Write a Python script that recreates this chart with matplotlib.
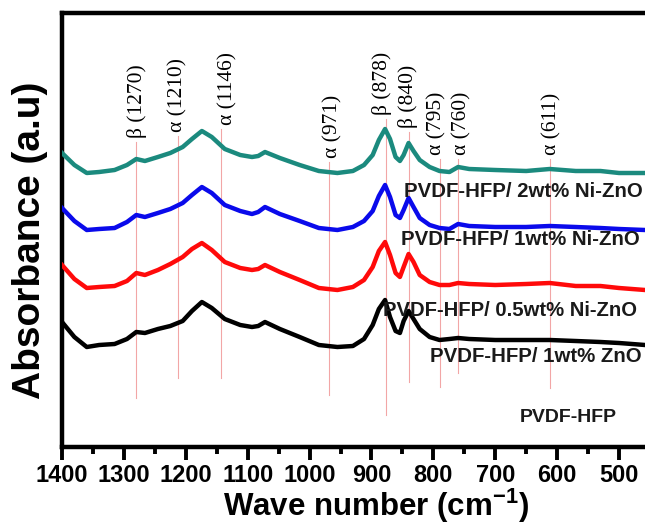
import matplotlib
matplotlib.use("Agg")
import matplotlib.pyplot as plt
from matplotlib.ticker import MultipleLocator

plt.rcParams['font.family'] = ['Liberation Sans', 'DejaVu Sans']
plt.rcParams['mathtext.fontset'] = 'custom'
plt.rcParams['mathtext.rm'] = 'Liberation Sans:bold'
plt.rcParams['mathtext.bf'] = 'Liberation Sans:bold'

# ---- data ----
wavenumber = [1400, 1380, 1360, 1340, 1315, 1295, 1280, 1266, 1245, 1225, 1205, 1190,
              1174, 1158, 1137, 1112, 1093, 1083, 1072, 1048, 1016, 985, 955, 930,
              912, 898, 888, 878, 870, 861, 854, 848, 840, 832, 822, 806, 790, 774,
              760, 742, 700, 650, 612, 570, 530, 500, 458]

abs_2wt_nizno = [294, 282, 274, 275, 277, 282, 288, 286, 290, 294, 300, 308,
                 316, 310, 298, 292, 290, 291, 295, 289, 282, 276, 274, 276,
                 282, 292, 307, 318, 308, 290, 286, 292, 304, 296, 287, 280, 276, 275,
                 280, 278, 277, 276, 278, 276, 276, 274, 274]
abs_1wt_nizno = [239, 226, 217, 218, 219, 225, 232, 230, 234, 238, 244, 252,
                 260, 254, 242, 236, 233, 235, 240, 233, 226, 219, 217, 220,
                 226, 236, 251, 262, 250, 232, 229, 237, 249, 240, 229, 222, 219, 218,
                 223, 221, 220, 220, 221, 220, 219, 218, 217]
abs_05wt_nizno = [182, 168, 159, 160, 161, 166, 174, 172, 177, 183, 190, 198,
                  204, 197, 185, 179, 177, 178, 182, 175, 167, 159, 157, 160,
                  167, 180, 196, 205, 192, 174, 170, 180, 193, 185, 172, 165, 162, 162,
                  164, 163, 162, 163, 164, 161, 161, 159, 157]
abs_1wt_zno = [125, 110, 100, 102, 103, 108, 115, 114, 118, 121, 126, 136,
               145, 139, 128, 122, 120, 121, 125, 118, 110, 102, 100, 101,
               108, 122, 138, 147, 130, 116, 114, 126, 136, 128, 118, 110, 107, 108,
               109, 108, 107, 107, 107, 106, 105, 104, 102]

series_labels = ["PVDF-HFP/ 2wt% Ni-ZnO", "PVDF-HFP/ 1wt% Ni-ZnO",
                 "PVDF-HFP/ 0.5wt% Ni-ZnO", "PVDF-HFP/ 1wt% ZnO", "PVDF-HFP"]

band_labels = ["β (1270)", "α (1210)", "α (1146)", "α (971)", "β (878)",
               "β (840)", "α (795)", "α (760)", "α (611)"]
band_line_pos = [1280, 1212, 1143, 968, 876, 840, 789, 760, 612]

# ---- layout / style ----
W, H = 645, 525
fig = plt.figure(figsize=(W / 100, H / 100), dpi=100)
ax = fig.add_axes([62 / W, (H - 447) / H, 1 - 62 / W, (447 - 13) / H])
ax.set_xlim(1400, 458)
ax.set_ylim(0, 434)

def py(y):  # pixel y -> data
    return 447 - y

colors = ['#1b8a7e', '#0a0aeb', '#ff0a0a', '#000000']
for vals, c in zip([abs_2wt_nizno, abs_1wt_nizno, abs_05wt_nizno, abs_1wt_zno], colors):
    ax.plot(wavenumber, vals, color=c, lw=3.2, solid_joinstyle='round', zorder=3)

# band reference lines and labels
label_x = [1279, 1213, 1132, 962, 883, 841, 794, 754, 608]
label_bottom = [138, 132, 125, 158, 115, 128, 155, 155, 155]
line_bottom = [398, 378, 378, 395, 415, 382, 387, 373, 388]
for pos, lx, lb, bot, txt in zip(band_line_pos, label_x, label_bottom, line_bottom, band_labels):
    ax.plot([pos, pos], [py(bot), py(lb + 4)], color='#f2a6a6', lw=0.8, zorder=1)
    ax.text(lx, py(lb), txt, rotation=90, ha='center', va='bottom',
            family='Liberation Serif', fontsize=15.5, zorder=4)

# series labels
lab_pos = [(404, 192), (401, 240), (383, 310), (430, 357), (520, 417)]
lab_size = [14.7, 14.7, 14.6, 14.7, 14]
for (lx, ly), s, fs in zip(lab_pos, series_labels, lab_size):
    ax.text(lx / W, 1 - ly / H, s, transform=fig.transFigure, ha='left', va='center',
            fontsize=fs, fontweight='bold', color='#1a1a1a', zorder=5, clip_on=False)

for side in ['left', 'bottom', 'top']:
    ax.spines[side].set_linewidth(3.2)
ax.spines['right'].set_visible(False)

ax.xaxis.set_major_locator(MultipleLocator(100))
ax.xaxis.set_minor_locator(MultipleLocator(50))
ax.tick_params(axis='x', which='major', direction='out', length=9, width=2.8,
               labelsize=17, pad=3)
ax.tick_params(axis='x', which='minor', direction='out', length=5, width=2.8)
for t in ax.get_xticklabels():
    t.set_fontweight('bold')
ax.set_yticks([])

fig.text(376 / W, 1 - 506 / H, 'Wave number (cm$^{-1}$)', ha='center', va='center',
         fontsize=22.5, fontweight='bold')
fig.text(30 / W, 1 - 240 / H, 'Absorbance (a.u)', ha='center', va='center',
         rotation=90, fontsize=28, fontweight='bold')

fig.savefig('out.png', dpi=100)
